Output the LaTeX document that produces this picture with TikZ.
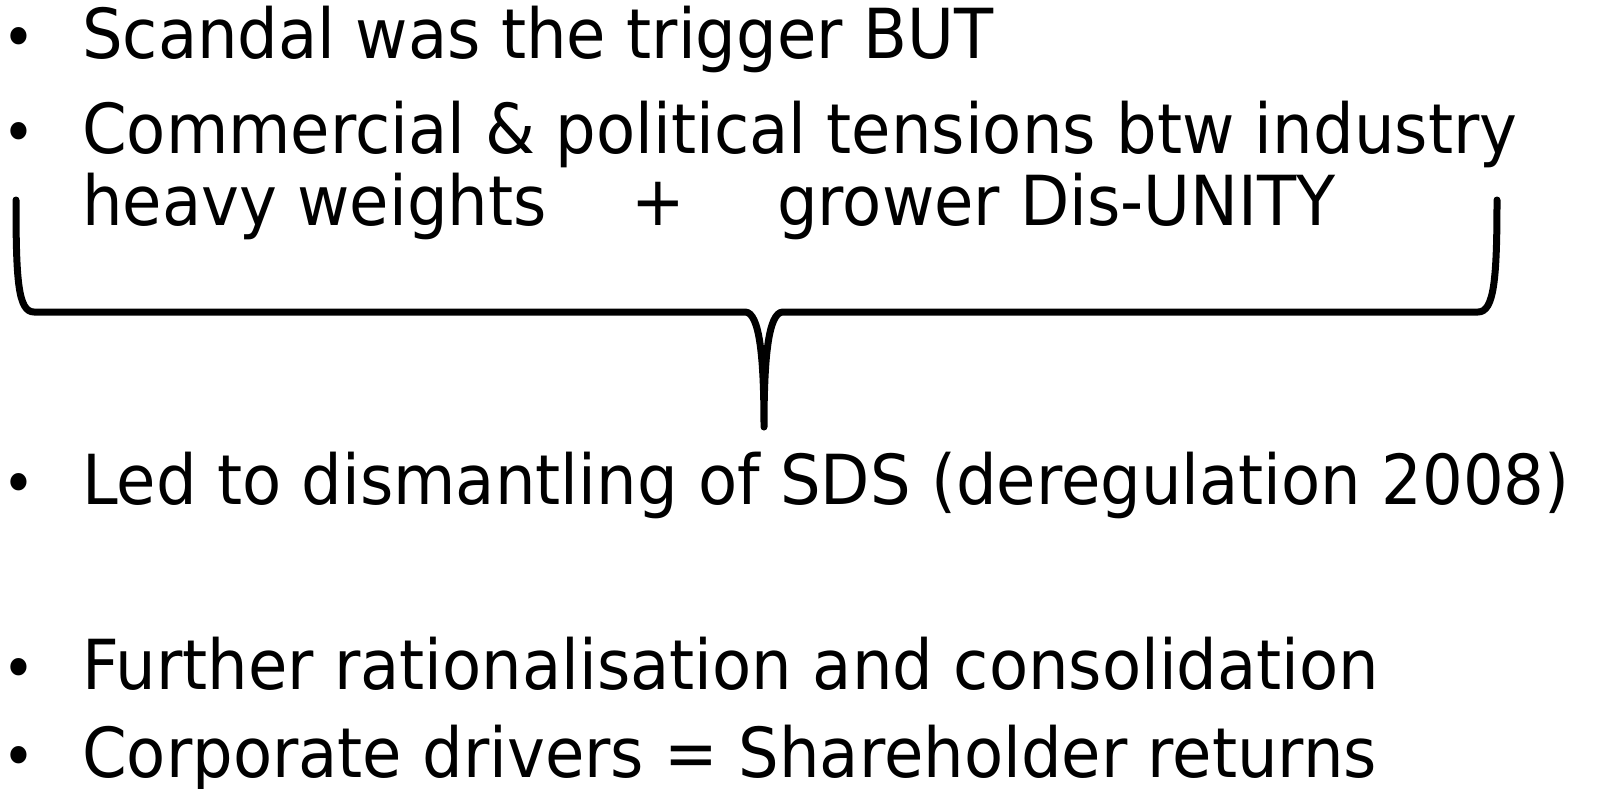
\documentclass[tikz,border=0pt]{standalone}
\usepackage{fontspec}
\setmainfont{DejaVu Sans}[FakeStretch=0.928]
\begin{document}
\begin{tikzpicture}[x=1pt,y=1pt,
  txt/.style={anchor=base west,inner sep=0pt,font=\fontsize{69}{80}\selectfont},
  bul/.style={anchor=base,inner sep=0pt,font=\fontsize{60}{70}\selectfont},
  brace/.style={line width=7pt,line cap=round,line join=round}]
\useasboundingbox (0,0) rectangle (1599,-788);
\node[bul] (b1) at (19,-58) {•};
\node[txt] (t1) at (82,-58) {Scandal was the trigger BUT};
\node[bul] (b2) at (19,-153) {•};
\node[txt] (t2) at (82,-153) {Commercial \& political tensions btw industry};
\node[txt] (t3) at (82,-225) {heavy weights};
\node[txt,anchor=base] (t3b) at (658,-225) {+};
\node[txt] (t3c) at (777,-225) {grower Dis-UNITY};
\node[bul] (b4) at (19,-504) {•};
\node[txt] (t4) at (82,-504) {Led to dismantling of SDS (deregulation 2008)};
\node[bul] (b5) at (19,-689) {•};
\node[txt] (t5) at (82,-689) {Further rationalisation and consolidation};
\node[bul] (b6) at (19,-777) {•};
\node[txt] (t6) at (82,-777) {Corporate drivers = Shareholder returns};
\draw[brace] (16,-200) .. controls (16,-280) and (18,-312) .. (34,-312) -- (745,-312)
  .. controls (760,-312) and (764,-360) .. (764,-427)
  .. controls (764,-360) and (768,-312) .. (783,-312) -- (1478,-312)
  .. controls (1494,-312) and (1497,-280) .. (1497,-200);
\end{tikzpicture}
\end{document}
